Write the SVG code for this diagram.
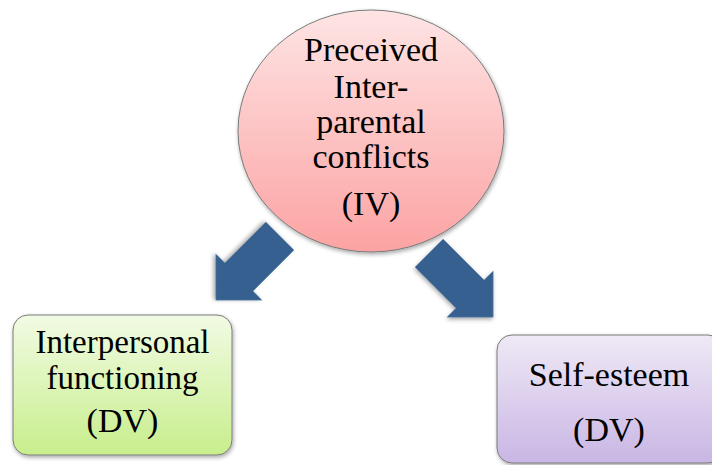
<svg xmlns="http://www.w3.org/2000/svg" width="712" height="465" viewBox="0 0 712 465">
  <defs>
    <linearGradient id="gRed" x1="0" y1="0" x2="0" y2="1">
      <stop offset="0" stop-color="#fee4e4"/>
      <stop offset="1" stop-color="#fca3a3"/>
    </linearGradient>
    <linearGradient id="gGreen" x1="0" y1="0" x2="0" y2="1">
      <stop offset="0" stop-color="#f1fbe4"/>
      <stop offset="1" stop-color="#c8ee8c"/>
    </linearGradient>
    <linearGradient id="gPurple" x1="0" y1="0" x2="0" y2="1">
      <stop offset="0" stop-color="#efe9f6"/>
      <stop offset="1" stop-color="#c9b6e4"/>
    </linearGradient>
    <filter id="shadow" x="-10%" y="-10%" width="130%" height="130%">
      <feGaussianBlur in="SourceAlpha" stdDeviation="2"/>
      <feOffset dx="1" dy="2" result="b"/>
      <feComponentTransfer><feFuncA type="linear" slope="0.35"/></feComponentTransfer>
      <feMerge><feMergeNode/><feMergeNode in="SourceGraphic"/></feMerge>
    </filter>
  </defs>
  <style>
    text { font-family: 'Liberation Serif', 'Times New Roman', Times, 'DejaVu Serif', serif; font-size: 34px; fill: #000; text-anchor: middle; }
    .tight { font-size: 33px; }
    .node { stroke: #7a7a7a; stroke-width: 1; filter: url(#shadow); }
    .arrow { fill: #36608f; filter: url(#shadow); }
  </style>

  <g id="connectors">
    <polygon class="arrow" points="0,-20 58,-20 58,-33 91,0 58,33 58,20 0,20" transform="translate(280,236) rotate(135)"/>
    <polygon class="arrow" points="0,-20 58,-20 58,-33 91,0 58,33 58,20 0,20" transform="translate(429,253) rotate(45)"/>
  </g>

  <g id="iv">
    <ellipse class="node" cx="371" cy="131" rx="133" ry="121" fill="url(#gRed)"/>
    <text x="371" y="61">Preceived</text>
    <text x="371" y="98">Inter-</text>
    <text x="371" y="133">parental</text>
    <text x="371" y="168">conflicts</text>
    <text x="371" y="215">(IV)</text>
  </g>

  <g id="dv1">
    <rect class="node" x="13" y="315" width="219" height="140" rx="15" fill="url(#gGreen)"/>
    <text class="tight" x="122.5" y="353">Interpersonal</text>
    <text class="tight" x="122.5" y="389">functioning</text>
    <text x="122.5" y="432">(DV)</text>
  </g>

  <g id="dv2">
    <rect class="node" x="497" y="335" width="226" height="128" rx="15" fill="url(#gPurple)"/>
    <text x="609" y="386">Self-esteem</text>
    <text x="609" y="441">(DV)</text>
  </g>
</svg>
